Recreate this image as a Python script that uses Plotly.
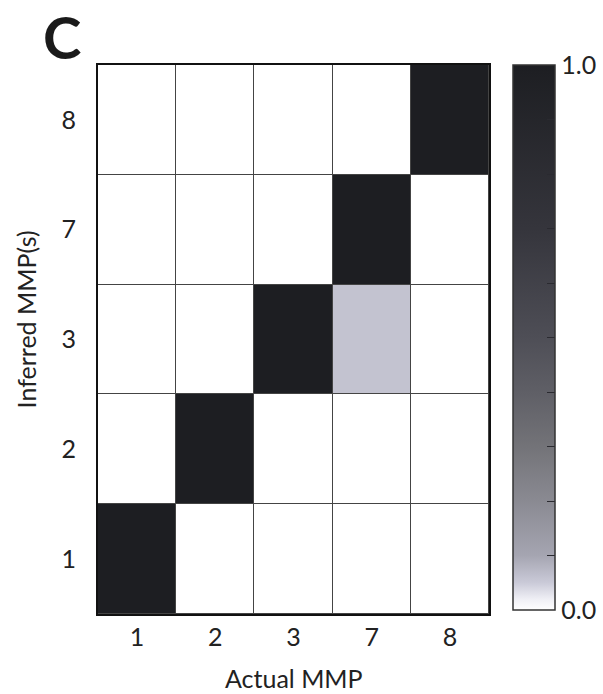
import plotly.graph_objects as go

# MMP identities (rows = inferred, bottom to top; columns = actual)
actual_mmp = ["1", "2", "3", "7", "8"]
inferred_mmp = ["1", "2", "3", "7", "8"]

# Fraction of assignments per (inferred row, actual column)
row_1 = [1.0, 0.0, 0.0, 0.0, 0.0]
row_2 = [0.0, 1.0, 0.0, 0.0, 0.0]
row_3 = [0.0, 0.0, 1.0, 0.06, 0.0]
row_7 = [0.0, 0.0, 0.0, 1.0, 0.0]
row_8 = [0.0, 0.0, 0.0, 0.0, 1.0]

colorbar_ticks = [0.0, 0.1, 0.2, 0.3, 0.4, 0.5, 0.6, 0.7, 0.8, 0.9, 1.0]
colorbar_labels = ["0.0", "", "", "", "", "", "", "", "", "", "1.0"]

grey_scale = [
    [0.0, "#ffffff"],
    [0.02, "#efeff5"],
    [0.05, "#cacad8"],
    [0.1, "#a5a5b1"],
    [0.2, "#8a8a92"],
    [0.3, "#737378"],
    [0.4, "#5f5f66"],
    [0.5, "#4e4e56"],
    [0.7, "#35353c"],
    [1.0, "#1d1e22"],
]

FONT = "Lato"
TEXT = "#222222"
TICK_SIZE = 25
TITLE_SIZE = 25

fig = go.Figure(
    go.Heatmap(
        x=actual_mmp,
        y=inferred_mmp,
        z=[row_1, row_2, row_3, row_7, row_8],
        zmin=0,
        zmax=1,
        colorscale=grey_scale,
        xgap=1,
        ygap=1,
        hoverongaps=False,
        colorbar=dict(
            x=1.061,
            xanchor="left",
            xpad=0,
            y=1.0,
            yanchor="top",
            ypad=0,
            len=0.993,
            lenmode="fraction",
            thickness=42,
            thicknessmode="pixels",
            outlinecolor="#333333",
            outlinewidth=1.5,
            tickvals=colorbar_ticks,
            ticktext=colorbar_labels,
            ticks="inside",
            ticklen=8,
            tickcolor="#2a2a30",
            tickfont=dict(family=FONT, size=TICK_SIZE, color=TEXT),
        ),
    )
)

fig.update_xaxes(
    type="category",
    categoryorder="array",
    categoryarray=actual_mmp,
    showline=True,
    mirror=True,
    linecolor="#111111",
    linewidth=2,
    showgrid=False,
    zeroline=False,
    ticks="",
    ticklabelstandoff=0,
    tickfont=dict(family=FONT, size=TICK_SIZE, color=TEXT),
)
fig.update_yaxes(
    type="category",
    categoryorder="array",
    categoryarray=inferred_mmp,
    showline=True,
    mirror=True,
    linecolor="#111111",
    linewidth=2,
    showgrid=False,
    zeroline=False,
    ticks="",
    ticklabelstandoff=15,
    tickfont=dict(family=FONT, size=TICK_SIZE, color=TEXT),
)

# Axis titles and panel letter
fig.add_annotation(
    text="Actual MMP",
    xref="paper", yref="paper",
    x=0.5, y=-0.1166,
    xanchor="center", yanchor="middle",
    showarrow=False,
    font=dict(family=FONT, size=TITLE_SIZE, color=TEXT),
)
fig.add_annotation(
    text="Inferred MMP(s)",
    xref="paper", yref="paper",
    x=-0.185, y=0.536,
    xanchor="center", yanchor="middle",
    textangle=-90,
    showarrow=False,
    font=dict(family=FONT, size=TITLE_SIZE, color=TEXT),
)
fig.add_annotation(
    text="<b>C</b>",
    xref="paper", yref="paper",
    x=-0.145, y=1.118,
    xanchor="left", yanchor="top",
    showarrow=False,
    font=dict(family=FONT, size=58, color="#1a1a1a"),
)

fig.update_layout(
    width=603,
    height=694,
    margin=dict(l=98, r=114, t=65, b=80, autoexpand=False),
    paper_bgcolor="white",
    plot_bgcolor="#444444",
    showlegend=False,
)

fig.write_html("out.html")
